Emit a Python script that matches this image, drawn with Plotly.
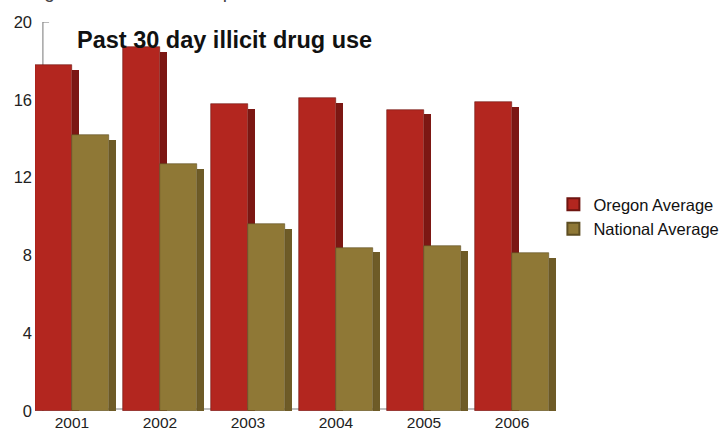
import plotly.graph_objects as go

years = ["2001", "2002", "2003", "2004", "2005", "2006"]
oregon = [17.8, 18.7, 15.8, 16.1, 15.5, 15.9]
national = [14.2, 12.7, 9.6, 8.4, 8.5, 8.1]
y_ticks = [0, 4, 8, 12, 16, 20]

idx = list(range(len(years)))
W = 0.42      # front face width (axis units)
D = 0.085     # side face depth

red = "#b3261f"
red_side = "#7c1713"
gold = "#8f7836"
gold_side = "#6e5b27"

fig = go.Figure()
fig.add_trace(go.Bar(x=idx, y=[v - 0.25 for v in oregon], offset=0, width=D,
                     marker=dict(color=red_side, line_width=0),
                     showlegend=False, hoverinfo="skip"))
fig.add_trace(go.Bar(x=idx, y=oregon, offset=-W, width=W, name="Oregon Average",
                     marker=dict(color=red, line=dict(color="#6e1510", width=0.6))))
fig.add_trace(go.Bar(x=idx, y=[v - 0.25 for v in national], offset=W, width=D,
                     marker=dict(color=gold_side, line_width=0),
                     showlegend=False, hoverinfo="skip"))
fig.add_trace(go.Bar(x=idx, y=national, offset=0, width=W, name="National Average",
                     marker=dict(color=gold, line=dict(color="#5e4e22", width=0.6))))

fig.add_shape(type="line", xref="x", yref="y", x0=-0.33, x1=-0.33, y0=0, y1=20,
              line=dict(color="#777777", width=1), layer="below")
fig.add_shape(type="line", xref="x", yref="y", x0=-0.33, x1=-0.26, y0=20, y1=20,
              line=dict(color="#777777", width=1), layer="below")
fig.add_shape(type="line", xref="x", yref="y", x0=-0.4, x1=5.1, y0=0.1, y1=0.1,
              line=dict(color="#aaaaaa", width=1.5), layer="below")

fig.add_annotation(text="<b>Past 30 day illicit drug use</b>", xref="paper", yref="paper",
                   x=0.077, y=0.953, xanchor="left", yanchor="middle", showarrow=False,
                   font=dict(family="Liberation Sans, Arial", size=23.5, color="#111111"))
fig.add_annotation(text="- Oregon 8th Graders compared to National 8th Graders",
                   xref="paper", yref="paper", x=-0.07, y=1.045, xanchor="left",
                   yanchor="bottom", showarrow=False,
                   font=dict(family="Liberation Sans, Arial", size=19, color="#444444"))

fig.update_layout(
    width=728, height=432,
    margin=dict(l=35, r=172, t=22, b=21, autoexpand=False),
    paper_bgcolor="white", plot_bgcolor="white",
    barmode="overlay",
    font=dict(family="Liberation Sans, Arial", color="#222222"),
    xaxis=dict(range=[-0.42, 5.5], tickvals=idx, ticktext=years, showgrid=False,
               zeroline=False, showline=False, ticks="", automargin=False,
               tickfont=dict(size=15.5), ticklabelstandoff=0),
    yaxis=dict(range=[0, 20], tickvals=y_ticks, showgrid=False, zeroline=False,
               showline=False, ticks="", automargin=False, tickfont=dict(size=16.5),
               ticklabelstandoff=2),
    legend=dict(x=0.995, xanchor="left", y=0.5, yanchor="middle",
                font=dict(size=16.5, color="#111111"), bgcolor="rgba(0,0,0,0)",
                itemsizing="constant", tracegroupgap=2),
    bargap=0,
)

fig.write_html("out.html", config={"displayModeBar": False},
               post_script="document.body.style.margin='0';document.body.style.overflow='hidden';")
